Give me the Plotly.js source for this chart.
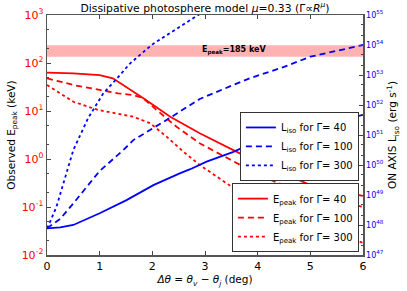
<!DOCTYPE html>
<html>
<head>
<meta charset="utf-8">
<script src="https://cdn.plot.ly/plotly-3.0.1.min.js"></script>
<style>html,body{margin:0;padding:0;background:#fff}#chart{width:407px;height:291px}</style>
</head>
<body>
<div id="chart"></div>
<script>
// Epeak curves (keV), left axis
const epX40  = [0, 0.5, 1.0, 1.25, 1.83, 2.34, 2.9, 3.54, 3.85, 4.0, 5.0, 6.0];
const epY40  = [62.8, 61, 56, 48, 18.4, 7.6, 3.43, 1.49, 1.03, 0.88, 0.287, 0.17];
const epX100 = [0, 0.5, 1.0, 1.35, 1.64, 1.83, 2.08, 2.46, 2.9, 3.54, 3.85, 4.0, 5.0, 6.0];
const epY100 = [48, 34.8, 27.5, 23.4, 21.5, 18.4, 10.5, 4.7, 2.12, 0.88, 0.59, 0.46, 0.178, 0.1];
const epX300 = [0, 0.5, 0.97, 1.32, 1.64, 1.96, 2.27, 2.59, 2.9, 3.54, 4.04, 5.0, 6.0];
const epY300 = [34.8, 15.6, 10.5, 8.96, 7.6, 5.54, 2.92, 1.42, 0.75, 0.249, 0.14, 0.051, 0.0178];
// Liso curves (erg/s), right axis, as log10 values
const lsX40  = [0, 0.25, 0.5, 1.0, 1.51, 2.02, 2.52, 2.72, 3.03, 3.54, 3.89, 5.0, 6.0];
const lsL40  = [47.89, 47.92, 48.0, 48.39, 48.83, 49.33, 49.72, 49.86, 50.11, 50.44, 50.72, 51.25, 51.67];
const lsX100 = [0, 0.25, 0.5, 1.0, 1.45, 1.64, 2.27, 2.9, 3.54, 3.85, 4.5, 5.0, 6.0];
const lsL100 = [47.89, 48.2, 48.72, 49.8, 50.5, 50.83, 51.5, 52.2, 52.67, 52.89, 53.27, 53.61, 54.0];
const lsX300 = [0, 0.06, 0.18, 0.3, 0.44, 0.5, 0.78, 1.07, 1.3, 1.58, 2.0, 2.45, 2.87, 3.3];
const lsL300 = [47.89, 48.11, 48.61, 49.35, 50.22, 50.5, 51.56, 52.39, 52.83, 53.39, 54.02, 54.53, 55.0, 55.4];
// band
const bandLow = 135, bandHigh = 235, bandLabel = 185;
const leftTicks = [-2, -1, 0, 1, 2, 3];
const rightTicks = [47, 48, 49, 50, 51, 52, 53, 54, 55];
const xTicks = [0, 1, 2, 3, 4, 5, 6];

const pow = a => a.map(v => Math.pow(10, v));
const F = 'DejaVu Sans, sans-serif';
const RED = '#ff0000', BLUE = '#0000ff';

const traces = [
  {x: [0, 6, 6, 0, 0], y: [bandLow, bandLow, bandHigh, bandHigh, bandLow], fill: 'toself',
   fillcolor: 'rgba(255,0,0,0.3)', line: {width: 0}, mode: 'lines', showlegend: false, hoverinfo: 'skip', yaxis: 'y'},
  {x: lsX40, y: pow(lsL40), yaxis: 'y2', mode: 'lines', line: {color: BLUE, width: 1.8}, name: 'L<sub>iso</sub> for Γ= 40', legend: 'legend'},
  {x: lsX100, y: pow(lsL100), yaxis: 'y2', mode: 'lines', line: {color: BLUE, width: 1.8, dash: '6px,4px'}, name: 'L<sub>iso</sub> for Γ= 100', legend: 'legend'},
  {x: lsX300, y: pow(lsL300), yaxis: 'y2', mode: 'lines', line: {color: BLUE, width: 1.8, dash: 'dot'}, name: 'L<sub>iso</sub> for Γ= 300', legend: 'legend'},
  {x: epX40, y: epY40, yaxis: 'y', mode: 'lines', line: {color: RED, width: 1.8}, name: 'E<sub>peak</sub> for Γ= 40', legend: 'legend2'},
  {x: epX100, y: epY100, yaxis: 'y', mode: 'lines', line: {color: RED, width: 1.8, dash: '6px,4px'}, name: 'E<sub>peak</sub> for Γ= 100', legend: 'legend2'},
  {x: epX300, y: epY300, yaxis: 'y', mode: 'lines', line: {color: RED, width: 1.8, dash: 'dot'}, name: 'E<sub>peak</sub> for Γ= 300', legend: 'legend2'}
];

const axLine = '#555';
const layout = {
  width: 407, height: 291,
  margin: {l: 47, r: 44, t: 15, b: 36},
  paper_bgcolor: '#fff', plot_bgcolor: '#fff',
  font: {family: F, color: '#000', size: 10},
  showlegend: true,
  title: {text: 'Dissipative photosphere model <i>μ</i>=0.33 (Γ∝<i>R</i><sup><i>μ</i></sup>)',
          font: {family: F, size: 10.8, color: '#000'}, x: 0.5, xref: 'paper', y: 0.972, yanchor: 'middle'},
  xaxis: {range: [0, 6], tickvals: xTicks, ticktext: xTicks.map(String), ticks: 'inside', ticklen: 4,
          showline: true, linecolor: axLine, linewidth: 1.5, mirror: 'ticks', showgrid: false, zeroline: false,
          tickfont: {size: 11, color: '#000'},
          title: {text: '<i>Δθ</i> = <i>θ<sub>v</sub></i> − <i>θ<sub>j</sub></i> (deg)', font: {size: 10.5}, standoff: 4}},
  yaxis: {type: 'log', range: [-2, 3], tickvals: pow(leftTicks), ticktext: leftTicks.map(p => '10<sup>' + p + '</sup>'),
          ticks: 'inside', ticklen: 4, showline: true, linecolor: axLine, linewidth: 1.5, showgrid: false, zeroline: false,
          tickfont: {size: 11, color: RED},
          minor: {ticks: 'inside', ticklen: 2, showgrid: false},
          title: {text: 'Observed E<sub>peak</sub> (keV)', font: {size: 10.5}, standoff: 4}},
  yaxis2: {type: 'log', range: [47, 55], overlaying: 'y', side: 'right', tickvals: pow(rightTicks),
           ticktext: rightTicks.map(p => '10<sup>' + p + '</sup>'),
           ticks: 'inside', ticklen: 4, showline: true, linecolor: axLine, linewidth: 1.5, showgrid: false, zeroline: false,
           tickfont: {size: 8, color: BLUE},
           minor: {ticks: 'inside', ticklen: 2, showgrid: false},
           title: {text: 'ON AXIS L<sub>iso</sub> (erg s<sup>-1</sup>)', font: {size: 10.5}, standoff: 6}},
  legend: {x: 0.987, xanchor: 'right', y: 0.596, yanchor: 'top', bgcolor: '#fff', bordercolor: '#333', borderwidth: 1,
           font: {size: 10, family: F}, tracegroupgap: 0},
  legend2: {x: 0.987, xanchor: 'right', y: 0.012, yanchor: 'bottom', bgcolor: '#fff', bordercolor: '#333', borderwidth: 1,
            font: {size: 10, family: F}, tracegroupgap: 0},
  annotations: [{x: 3.55, y: Math.log10(bandLabel), xref: 'x', yref: 'y', text: '<b>E<sub>peak</sub>=185 keV</b>',
                 showarrow: false, font: {size: 8, color: '#000'}}]
};

Plotly.newPlot('chart', traces, layout, {displayModeBar: false, staticPlot: true});
</script>
</body>
</html>
